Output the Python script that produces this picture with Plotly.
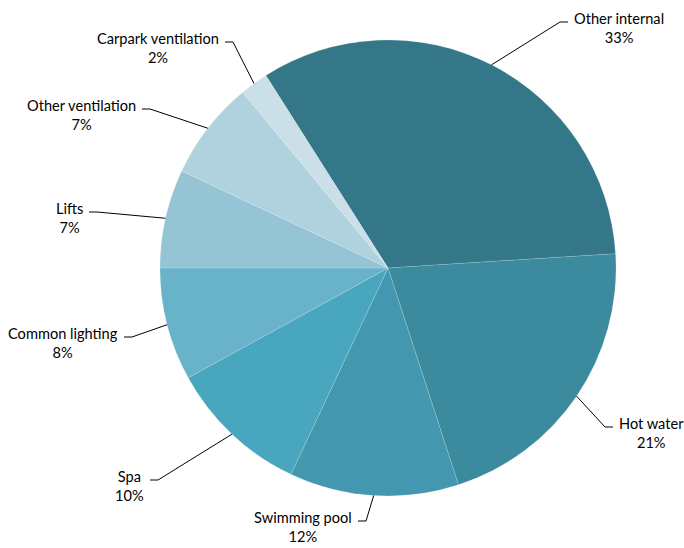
import math
import plotly.graph_objects as go

# ---- data ----
categories = ["Other internal", "Hot water", "Swimming pool", "Spa",
              "Common lighting", "Lifts", "Other ventilation", "Carpark ventilation"]
shares = [33, 21, 12, 10, 8, 7, 7, 2]
colors = ["#337788", "#3c8a9d", "#4398b0", "#49a6bf",
          "#68b3ca", "#95c4d5", "#b0d2df", "#cadfe7"]

# ---- layout constants ----
FIG_W, FIG_H = 684, 548
M_L, M_R, M_T, M_B = 160, 68, 40, 52
PW, PH = FIG_W - M_L - M_R, FIG_H - M_T - M_B
CX, CY = M_L + PW / 2, M_T + PH / 2
R = min(PW, PH) / 2
ROTATION = -32.4
FONT = "Lato, 'Open Sans', sans-serif"

# leader-line bend points (pixels) and side of label
label_bends = [(560, 22, "r"), (605, 427, "r"), (366, 521, "l"), (158, 480, "l"),
               (132, 337, "l"), (97, 212, "l"), (150, 109, "l"), (233, 42, "l")]
HSEG = 8
GAP = 4


def px(x):
    return (x - M_L) / PW


def py(y):
    return (FIG_H - M_B - y) / PH


fig = go.Figure(go.Pie(
    labels=categories, values=shares, sort=False, direction="clockwise",
    rotation=ROTATION, textinfo="none", hoverinfo="label+percent",
    marker=dict(colors=colors, line=dict(color="rgba(255,255,255,0.3)", width=0.5)),
    showlegend=False,
))

total = sum(shares)
cum = 0.0
shapes, annotations = [], []
for cat, v, (bx, by, side) in zip(categories, shares, label_bends):
    mid = ROTATION + (cum + v / 2) / total * 360
    cum += v
    a = math.radians(mid)
    sx, sy = CX + R * math.sin(a), CY - R * math.cos(a)
    ex = bx + HSEG if side == "r" else bx - HSEG
    shapes.append(dict(
        type="path", xref="paper", yref="paper",
        path=f"M {px(sx)},{py(sy)} L {px(bx)},{py(by)} L {px(ex)},{py(by)}",
        line=dict(color="black", width=1),
    ))
    tx = ex + GAP if side == "r" else ex - GAP
    annotations.append(dict(
        xref="paper", yref="paper", x=px(tx), y=py(by + 6),
        xanchor="left" if side == "r" else "right", yanchor="middle",
        text=f"{cat}<br>{round(v / total * 100)}%", align="center",
        showarrow=False, font=dict(family=FONT, size=14.6, color="#000000"),
    ))

fig.update_layout(
    width=FIG_W, height=FIG_H,
    margin=dict(l=M_L, r=M_R, t=M_T, b=M_B, autoexpand=False),
    paper_bgcolor="white", plot_bgcolor="white",
    shapes=shapes, annotations=annotations,
    font=dict(family=FONT),
)

fig.write_html("out.html", config={"displayModeBar": False},
               post_script="document.body.style.margin='0';document.body.style.padding='0';")
